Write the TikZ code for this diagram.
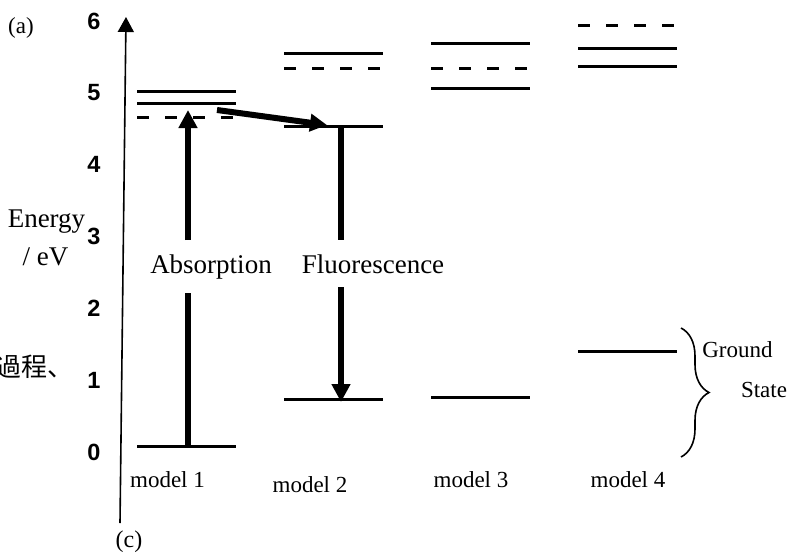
\documentclass[tikz,border=0pt]{standalone}
\usepackage{fontspec}
\setmainfont{Liberation Serif}
\newfontfamily\tickfont{Liberation Sans}
\newfontfamily\cjkfont{Noto Sans CJK JP}
\usetikzlibrary{arrows.meta, decorations.pathreplacing}

\tikzset{
  statelvl/.style={line width=3pt},
  virtlvl/.style={line width=3pt, dash pattern=on 12pt off 16pt},
  transition/.style={line width=6.5pt},
  bighead/.style={-{Triangle[length=18pt,width=18pt]}},
  bigtext/.style={font=\fontsize{27}{30}\selectfont, inner xsep=0pt, inner ysep=14pt},
  modeltext/.style={font=\fontsize{23}{26}\selectfont, inner sep=0pt},
  ticktext/.style={font=\tickfont\bfseries\fontsize{23.5}{26}\selectfont, inner sep=0pt}
}

\begin{document}
\begin{tikzpicture}[x=1pt, y=-1pt]
    \useasboundingbox (0,0) rectangle (790,552);

    % energy axis
    \coordinate (ax0) at (120,523);
    \coordinate (ax1) at (126,17);
    \draw[line width=1.6pt, -{Triangle[length=15pt,width=16pt]}] (ax0) -- (ax1);

    \foreach \v in {0,...,6}{
        \node[ticktext] (tick\v) at (94, {452-71.8*\v}) {\v};
    }

    \node[font=\fontsize{27}{30}\selectfont, inner sep=0pt, anchor=base] (energy) at (46.5,227) {Energy};
    \node[font=\fontsize{27}{30}\selectfont, inner sep=0pt, anchor=base] (unit) at (45.5,265) {/ eV};
    \node[font=\cjkfont\fontsize{26}{28}\selectfont, inner sep=0pt, anchor=base west] (kanji) at (-5,376) {過程、};
    \node[font=\fontsize{23}{26}\selectfont, inner sep=0pt, anchor=base] (tagA) at (21,33) {(a)};
    \node[font=\fontsize{24}{26}\selectfont, inner sep=0pt, anchor=base] (tagC) at (129,547) {(c)};

    % energy levels
    \foreach \x/\y/\s in {
        137/91/statelvl, 137/103/statelvl, 137/117/virtlvl, 137/446/statelvl,
        284/53/statelvl, 284/68/virtlvl, 284/126/statelvl, 284/399/statelvl,
        431/43/statelvl, 431/68/virtlvl, 431/88/statelvl, 431/397/statelvl,
        578/25/virtlvl, 578/48/statelvl, 578/66/statelvl, 578/351/statelvl}{
        \draw[\s] (\x,\y) -- ++(99,0);
    }

    % model labels
    \node[modeltext, anchor=base] (m1) at (167.5,487) {model 1};
    \node[modeltext, anchor=base] (m2) at (310,492) {model 2};
    \node[modeltext, anchor=base] (m3) at (471,487) {model 3};
    \node[modeltext, anchor=base] (m4) at (628,487) {model 4};

    % transitions
    \coordinate (m1g) at (188,446);
    \coordinate (m1x) at (188,110);
    \coordinate (hop0) at (217,110);
    \coordinate (hop1) at (327,125);
    \coordinate (m2x) at (341,126);
    \coordinate (m2g) at (341,402);

    \node[bigtext, anchor=base] (absorb) at (211,273) {Absorption};
    \node[bigtext, anchor=base] (fluor) at (373,273) {Fluorescence};

    \draw[transition] (m1g) -- (m1g |- absorb.south);
    \draw[transition, bighead] (m1g |- absorb.north) -- (m1x);
    \draw[line width=6pt, -{Triangle[length=17pt,width=17pt]}] (hop0) -- (hop1);
    \draw[transition] (m2x) -- (m2x |- fluor.north);
    \draw[transition, bighead] (m2x |- fluor.south) -- (m2g);

    % ground state brace
    \coordinate (br0) at (681,328);
    \coordinate (br1) at (681,457);
    \draw[line width=1.6pt, decorate, decoration={brace, amplitude=28pt}] (br0) -- (br1);
    \node[modeltext, anchor=base] (ground) at (737.5,357) {Ground};
    \node[modeltext, anchor=base] (state) at (764,397) {State};
\end{tikzpicture}
\end{document}
